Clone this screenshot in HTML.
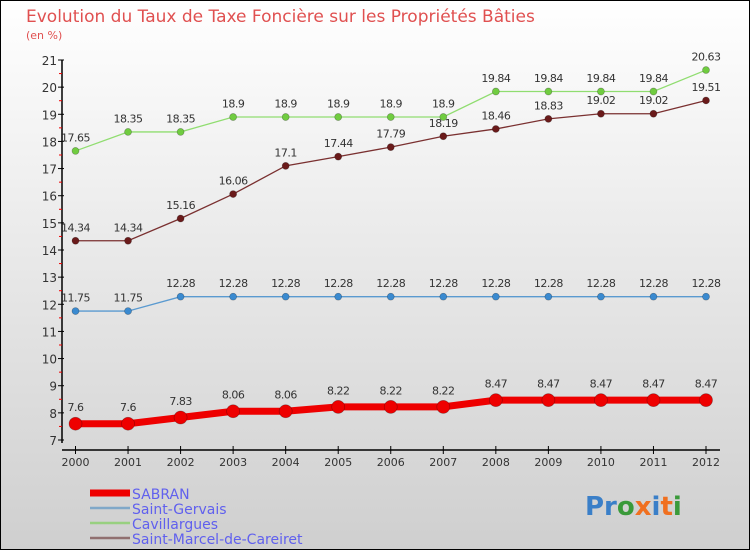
<!DOCTYPE html>
<html><head><meta charset="utf-8"><style>
body{margin:0}
svg text{font-family:"DejaVu Sans","Liberation Sans",sans-serif}
</style></head><body>
<svg width="750" height="550" xmlns="http://www.w3.org/2000/svg">
<defs><linearGradient id="bg" x1="0" y1="0" x2="0" y2="1"><stop offset="0" stop-color="#ffffff"/><stop offset="1" stop-color="#cfcfcf"/></linearGradient></defs>
<rect x="0.5" y="0.5" width="749" height="549" fill="url(#bg)" stroke="#000"/>
<text x="26" y="22" font-size="17" fill="#e05050">Evolution du Taux de Taxe Foncière sur les Propriétés Bâties</text>
<text x="26" y="39" font-size="11" fill="#e05050">(en %)</text>
<g id="axes"></g>
<g id="series"></g>
<g id="legend"></g>
<text x="585" y="515" font-size="26" font-weight="bold"><tspan fill="#3a7fc8">Pr</tspan><tspan fill="#3a9a3a">o</tspan><tspan fill="#f07020">x</tspan><tspan fill="#3a7fc8">i</tspan><tspan fill="#f07020">t</tspan><tspan fill="#3a9a3a">i</tspan></text>
</svg>
<script>
const years=[2000,2001,2002,2003,2004,2005,2006,2007,2008,2009,2010,2011,2012];
const yTicks=[7,8,9,10,11,12,13,14,15,16,17,18,19,20,21];
const sabran=[7.6,7.6,7.83,8.06,8.06,8.22,8.22,8.22,8.47,8.47,8.47,8.47,8.47];
const saintGervais=[11.75,11.75,12.28,12.28,12.28,12.28,12.28,12.28,12.28,12.28,12.28,12.28,12.28];
const cavillargues=[17.65,18.35,18.35,18.9,18.9,18.9,18.9,18.9,19.84,19.84,19.84,19.84,20.63];
const saintMarcel=[14.34,14.34,15.16,16.06,17.1,17.44,17.79,18.19,18.46,18.83,19.02,19.02,19.51];
const NS="http://www.w3.org/2000/svg";
const xs=i=>75.5+i*(706-75.5)/(years.length-1);
const ys=v=>440-(v-7)*(380/14);
function mk(tag,attrs,parent,name){const e=document.createElementNS(NS,tag);for(const k in attrs)e.setAttribute(k,attrs[k]);


parent.appendChild(e);return e;}
const ax=document.getElementById('axes');
mk('line',{x1:62,y1:60,x2:62,y2:443,stroke:'#000','stroke-width':1.5},ax,'y-axis');
mk('line',{x1:62,y1:450,x2:720,y2:450,stroke:'#000','stroke-width':1.5},ax,'x-axis');
yTicks.forEach(t=>{const y=ys(t);
mk('line',{x1:58,y1:y,x2:64,y2:y,stroke:'#000'},ax,'y-tick');
if(t<21)mk('line',{x1:59,y1:y-380/28,x2:62,y2:y-380/28,stroke:'#e00'},ax,'y-minor-tick');
const tx=mk('text',{x:57,y:y+5,'font-size':12,fill:'#333','text-anchor':'end'},ax,'y-tick-label');tx.textContent=t;});
years.forEach((yr,i)=>{const x=xs(i);
mk('line',{x1:x,y1:446,x2:x,y2:454,stroke:'#000'},ax,'x-tick');
const tx=mk('text',{x:x,y:466,'font-size':11,fill:'#333','text-anchor':'middle'},ax,'x-tick-label');tx.textContent=yr;});
const sg=document.getElementById('series');
function series(vals,color,w,r,name,dot){
const pts=vals.map((v,i)=>xs(i)+','+ys(v)).join(' ');
mk('polyline',{points:pts,fill:'none',stroke:color,'stroke-width':w},sg,name+'-line');
vals.forEach((v,i)=>{mk('circle',{cx:xs(i),cy:ys(v),r:r,fill:dot,stroke:'rgba(0,0,0,0.3)','stroke-width':0.7},sg,name+'-point');
const t=mk('text',{x:xs(i),y:ys(v)-(r+6),'font-size':11,fill:'#333','text-anchor':'middle','letter-spacing':'-0.5'},sg,name+'-value-label');t.textContent=v;});}
series(saintGervais,'#5a9ad0',1.3,3.5,'saint-gervais','#3a8ad0');
series(cavillargues,'#90dd70',1.3,3.5,'cavillargues','#70cc40');
series(saintMarcel,'#7a3030',1.3,3.5,'saint-marcel','#6a1a1a');
series(sabran,'#ee0000',7,6.5,'sabran','#ee0000');
const lg=document.getElementById('legend');
const names=['SABRAN','Saint-Gervais','Cavillargues','Saint-Marcel-de-Careiret'];
const cols=['#ee0000','#80a8c8','#98d080','#907070'];
names.forEach((n,i)=>{const y=493+i*15;
mk('line',{x1:90,y1:y,x2:130,y2:y,stroke:cols[i],'stroke-width':i==0?7:2.5},lg,'legend-swatch');
const t=mk('text',{x:132,y:y+6,'font-size':14,fill:'#6060ee'},lg,'legend-label');t.textContent=n;});
</script>
</body></html>
